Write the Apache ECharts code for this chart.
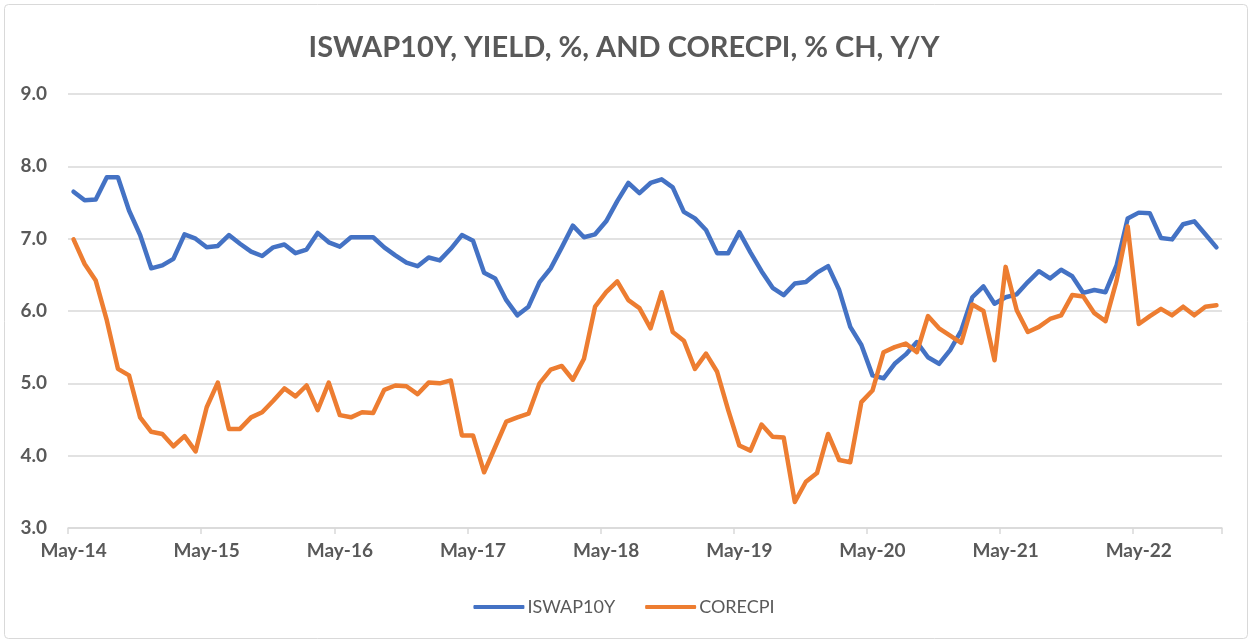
<!DOCTYPE html>
<html>
<head>
<meta charset="utf-8">
<script src="https://cdn.jsdelivr.net/npm/echarts@6/dist/echarts.min.js"></script>
<style>
html,body{margin:0;padding:0;background:#fff;}
#chart{width:1248px;height:639px;}
</style>
</head>
<body>
<div id="chart"></div>
<script>
const titleText = 'ISWAP10Y, YIELD, %, AND CORECPI, % CH, Y/Y';
const seriesNames = ['ISWAP10Y', 'CORECPI'];
const monthNames = ['Jan','Feb','Mar','Apr','May','Jun','Jul','Aug','Sep','Oct','Nov','Dec'];
const startYear = 2014, startMonth = 4, monthCount = 104;
const yTicks = [3, 4, 5, 6, 7, 8, 9];

const iswap10y = [
  7.65, 7.53, 7.54, 7.85, 7.85, 7.39, 7.05, 6.59, 6.63, 6.72,
  7.06, 7.00, 6.88, 6.90, 7.05, 6.93, 6.82, 6.76, 6.88, 6.92,
  6.80, 6.85, 7.08, 6.95, 6.89, 7.02, 7.02, 7.02, 6.88, 6.77,
  6.67, 6.62, 6.74, 6.70, 6.86, 7.05, 6.97, 6.53, 6.45, 6.15,
  5.94, 6.06, 6.40, 6.59, 6.88, 7.18, 7.02, 7.06, 7.24, 7.52,
  7.77, 7.63, 7.77, 7.82, 7.71, 7.37, 7.28, 7.12, 6.80, 6.80,
  7.09, 6.81, 6.55, 6.32, 6.22, 6.38, 6.40, 6.53, 6.62, 6.29,
  5.78, 5.53, 5.11, 5.07, 5.27, 5.40, 5.57, 5.36, 5.27, 5.46,
  5.73, 6.19, 6.34, 6.10, 6.19, 6.23, 6.40, 6.55, 6.45, 6.57,
  6.48, 6.25, 6.29, 6.26, 6.63, 7.28, 7.36, 7.35, 7.01, 6.99,
  7.20, 7.24, 7.06, 6.88
];
const corecpi = [
  6.99, 6.65, 6.42, 5.87, 5.20, 5.11, 4.53, 4.33, 4.30, 4.13,
  4.27, 4.06, 4.67, 5.01, 4.37, 4.37, 4.53, 4.60, 4.76, 4.93,
  4.82, 4.97, 4.63, 5.01, 4.56, 4.53, 4.60, 4.59, 4.91, 4.97,
  4.96, 4.85, 5.01, 5.00, 5.04, 4.28, 4.28, 3.77, 4.12, 4.47,
  4.53, 4.58, 5.00, 5.19, 5.24, 5.05, 5.34, 6.06, 6.26, 6.41,
  6.15, 6.04, 5.76, 6.26, 5.71, 5.59, 5.20, 5.41, 5.16, 4.63,
  4.14, 4.07, 4.43, 4.26, 4.25, 3.36, 3.64, 3.76, 4.30, 3.94,
  3.91, 4.74, 4.90, 5.43, 5.50, 5.55, 5.43, 5.93, 5.76, 5.66,
  5.56, 6.09, 6.00, 5.32, 6.61, 6.01, 5.71, 5.78, 5.89, 5.94,
  6.22, 6.20, 5.97, 5.86, 6.42, 7.17, 5.82, 5.93, 6.03, 5.94,
  6.06, 5.94, 6.06, 6.08
];

const categories = [];
for (let i = 0; i < monthCount; i++) {
  const m = (startMonth + i) % 12;
  const y = startYear + Math.floor((startMonth + i) / 12);
  categories.push(monthNames[m] + '-' + String(y).slice(2));
}

const chart = echarts.init(document.getElementById('chart'), null, {renderer: 'canvas'});
const gray = '#595959';
chart.setOption({
  animation: false,
  backgroundColor: '#ffffff',
  graphic: [{
    type: 'rect', left: 2, top: 2,
    shape: {width: 1243, height: 634, r: 4},
    style: {fill: 'none', stroke: '#d9d9d9', lineWidth: 1}
  }],
  title: {
    text: titleText,
    left: 'center', top: 28,
    textStyle: {fontFamily: 'Lato', fontWeight: 'bold', fontSize: 29, color: gray}
  },
  legend: {
    top: 593, left: 'center',
    itemWidth: 51, itemHeight: 4, itemGap: 30,
    icon: 'roundRect',
    textStyle: {fontFamily: 'Lato', fontSize: 18, color: gray, padding: [0, 0, 0, -2]},
    data: seriesNames
  },
  grid: {left: 68, right: 26, top: 94, bottom: 111, containLabel: false},
  xAxis: {
    type: 'category',
    data: categories,
    boundaryGap: true,
    axisLine: {show: true, lineStyle: {color: '#d9d9d9', width: 1.5}},
    axisTick: {show: true, interval: 11, length: 6, lineStyle: {color: '#d9d9d9', width: 1.5}},
    axisLabel: {interval: 11, margin: 13, fontFamily: 'Lato', fontWeight: 'bold', fontSize: 19, color: gray},
    splitLine: {show: false}
  },
  yAxis: {
    type: 'value',
    min: yTicks[0], max: yTicks[yTicks.length - 1], interval: 1,
    axisLine: {show: false},
    axisTick: {show: false},
    axisLabel: {margin: 21, fontFamily: 'Lato', fontWeight: 'bold', fontSize: 19, color: gray,
      formatter: v => v.toFixed(1)},
    splitLine: {lineStyle: {color: '#d9d9d9', width: 1.5}}
  },
  series: [
    {name: seriesNames[0], type: 'line', data: iswap10y, symbol: 'none',
     lineStyle: {color: '#4472C4', width: 4.5, join: 'round', cap: 'round'}, itemStyle: {color: '#4472C4'}},
    {name: seriesNames[1], type: 'line', data: corecpi, symbol: 'none',
     lineStyle: {color: '#ED7D31', width: 4.5, join: 'round', cap: 'round'}, itemStyle: {color: '#ED7D31'}}
  ]
});
</script>
</body>
</html>
